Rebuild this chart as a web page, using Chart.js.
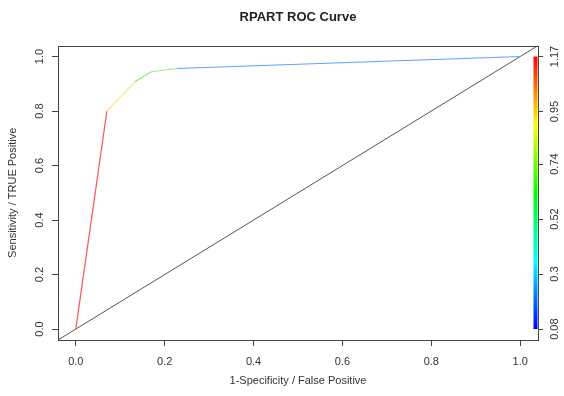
<!DOCTYPE html>
<html lang="en">
<head>
    <meta charset="UTF-8">
    <title>RPART ROC Curve</title>
    <script src="https://cdn.jsdelivr.net/npm/chart.js@4.4.3/dist/chart.umd.min.js"></script>
    <style>
        html, body { margin: 0; padding: 0; background: #fff; }
        #wrap { width: 564px; height: 396px; }
    </style>
</head>
<body>
    <div id="wrap"><canvas id="rocChart" width="564" height="396"></canvas></div>
    <script>
        // ROC points (false positive rate, true positive rate)
        const fpr = [0, 0.07, 0.133, 0.17, 0.227, 1.0];
        const tpr = [0, 0.8, 0.907, 0.944, 0.956, 1.0];
        // colour of each segment (by cutoff)
        const segColors = ['#ff5050', '#ffe28a', '#7ff06a', '#9ee98a', '#5aa6ff'];
        // diagonal reference line, drawn across the whole frame
        const diagX = [-0.04, 1.04];
        const diagY = [-0.04, 1.04];

        const axisTicks = [0, 0.2, 0.4, 0.6, 0.8, 1.0];
        const cbTicks = [0.08, 0.3, 0.52, 0.74, 0.95, 1.17];
        const cbLabels = ['0.08', '0.3', '0.52', '0.74', '0.95', '1.17'];

        const FONT = "'Liberation Sans', Arial, sans-serif";
        const INK = '#333';

        const rocPoints = fpr.map((x, i) => ({x: x, y: tpr[i]}));
        const diagPoints = diagX.map((x, i) => ({x: x, y: diagY[i]}));

        // box + rotated y labels + colour bar
        const extras = {
            id: 'extras',
            afterDraw(chart) {
                const {ctx, chartArea: a, scales} = chart;
                ctx.save();
                ctx.strokeStyle = '#444';
                ctx.lineWidth = 1;
                ctx.strokeRect(Math.round(a.left) + 0.5, Math.round(a.top) + 0.5,
                    Math.round(a.right - a.left), Math.round(a.bottom - a.top));

                // colour bar
                const y2 = scales.y2;
                const top = y2.getPixelForValue(cbTicks[cbTicks.length - 1]);
                const bot = y2.getPixelForValue(cbTicks[0]);
                const g = ctx.createLinearGradient(0, bot, 0, top);
                for (let i = 0; i <= 12; i++) {
                    g.addColorStop(i / 12, 'hsl(' + (240 - 20 * i) + ',100%,50%)');
                }
                ctx.fillStyle = g;
                ctx.fillRect(a.right - 4.5, top, 4, bot - top);

                ctx.fillStyle = INK;
                ctx.font = '11px ' + FONT;
                ctx.textAlign = 'center';
                ctx.textBaseline = 'middle';
                const ys = scales.y;
                axisTicks.forEach(v => {
                    ctx.save();
                    ctx.translate(39.5, ys.getPixelForValue(v));
                    ctx.rotate(-Math.PI / 2);
                    ctx.fillText(v.toFixed(1), 0, 0);
                    ctx.restore();
                });
                cbTicks.forEach((v, i) => {
                    ctx.save();
                    ctx.translate(555, y2.getPixelForValue(v));
                    ctx.rotate(-Math.PI / 2);
                    ctx.fillText(cbLabels[i], 0, 0);
                    ctx.restore();
                });
                ctx.restore();
            }
        };

        const tickGrid = {drawOnChartArea: false, drawTicks: true, tickLength: 6, color: '#444', lineWidth: 1};

        new Chart(document.getElementById('rocChart'), {
            type: 'line',
            data: {
                datasets: [
                    {
                        data: rocPoints,
                        borderWidth: 1.2,
                        pointRadius: 0,
                        fill: false,
                        tension: 0,
                        borderColor: segColors[0],
                        segment: {
                            borderColor: c => segColors[c.p0DataIndex]
                        }
                    },
                    {
                        data: diagPoints,
                        borderWidth: 1,
                        pointRadius: 0,
                        fill: false,
                        borderColor: '#555'
                    }
                ]
            },
            options: {
                responsive: false,
                animation: false,
                events: [],
                layout: {padding: 0},
                plugins: {
                    legend: {display: false},
                    tooltip: {enabled: false},
                    title: {
                        display: true,
                        text: 'RPART ROC Curve',
                        fullSize: false,
                        color: '#222',
                        font: {family: FONT, size: 13, weight: 'bold'},
                        padding: {top: 10, bottom: 20}
                    }
                },
                scales: {
                    x: {
                        type: 'linear',
                        min: -0.04,
                        max: 1.04,
                        afterBuildTicks: s => { s.ticks = axisTicks.map(v => ({value: v})); },
                        afterFit: s => { s.height = 56; },
                        grid: tickGrid,
                        border: {display: false},
                        ticks: {
                            color: INK,
                            font: {family: FONT, size: 11},
                            padding: 9,
                            maxRotation: 0,
                            callback: v => Number(v).toFixed(1)
                        },
                        title: {
                            display: true,
                            text: '1-Specificity / False Positive',
                            color: INK,
                            font: {family: FONT, size: 11},
                            padding: {top: 0, bottom: 8.4}
                        }
                    },
                    y: {
                        type: 'linear',
                        min: -0.04,
                        max: 1.04,
                        afterBuildTicks: s => { s.ticks = axisTicks.map(v => ({value: v})); },
                        afterFit: s => { s.width = 58; },
                        grid: tickGrid,
                        border: {display: false},
                        ticks: {display: false},
                        title: {
                            display: true,
                            text: 'Sensitivity / TRUE Positive',
                            color: INK,
                            font: {family: FONT, size: 11},
                            padding: {top: 6.4, bottom: 0}
                        }
                    },
                    y2: {
                        type: 'linear',
                        position: 'right',
                        min: 0.0364,
                        max: 1.2136,
                        afterBuildTicks: s => { s.ticks = cbTicks.map(v => ({value: v})); },
                        afterFit: s => { s.width = 26; },
                        grid: {drawOnChartArea: false, drawTicks: true, tickLength: 5, color: '#444', lineWidth: 1},
                        border: {display: false},
                        ticks: {display: false}
                    }
                }
            },
            plugins: [extras]
        });
    </script>
</body>
</html>
